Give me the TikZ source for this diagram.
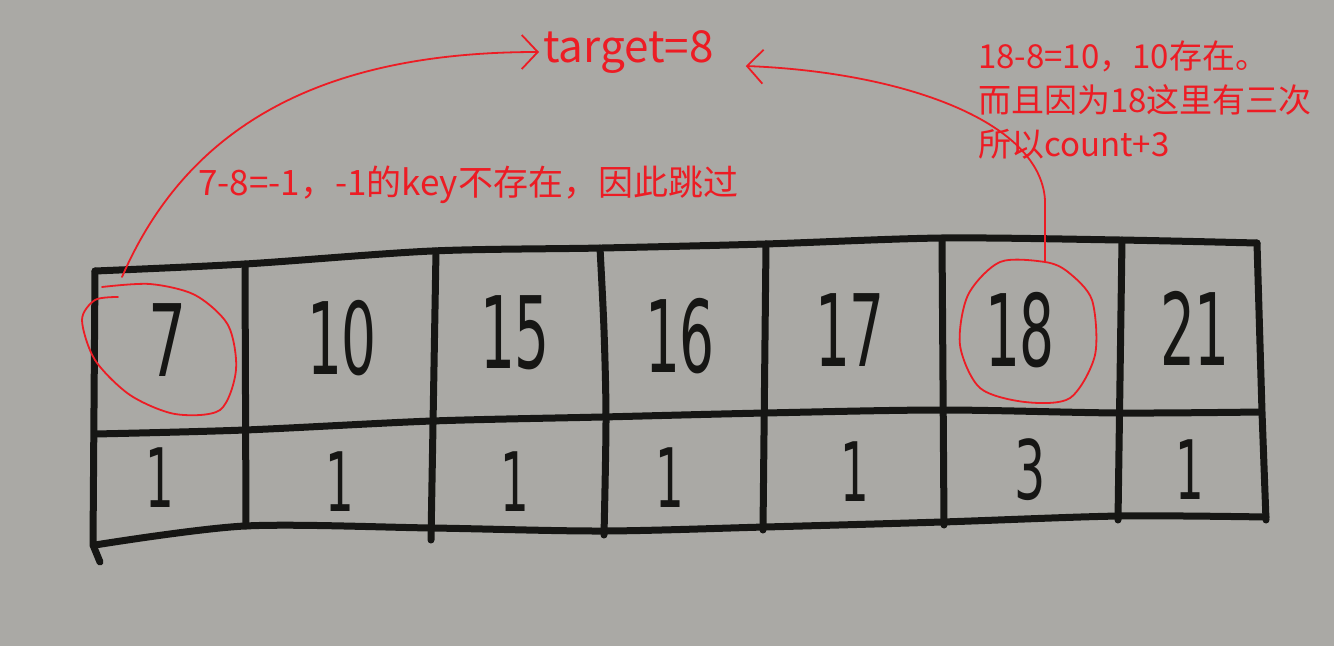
\documentclass[tikz,border=0pt]{standalone}
\usepackage{fontspec}
\newfontfamily\cjk{Noto Sans CJK SC}
\newfontfamily\numfont{DejaVu Sans}
\usetikzlibrary{arrows.meta}
\definecolor{paper}{RGB}{170,169,165}
\definecolor{pen}{RGB}{237,28,36}
\definecolor{ink}{RGB}{22,22,20}
\begin{document}
\begin{tikzpicture}[x=1pt,y=-1pt,
  grid/.style={ink,line width=7pt,line cap=round,line join=round},
  num/.style={ink,font=\numfont\fontsize{100}{100}\selectfont,inner sep=0pt},
  cnt/.style={ink,font=\numfont\fontsize{82}{82}\selectfont,inner sep=0pt},
  note/.style={pen,font=\cjk\fontsize{33}{44}\selectfont,inner sep=0pt,align=left},
  redpen/.style={pen,line width=1.8pt,line cap=round},
  arr/.style={redpen,-{Straight Barb[length=16pt,width=34pt]}}
]
\fill[paper] (0,0) rectangle (1334,646);
\useasboundingbox (0,0) rectangle (1334,646);

% grid
\draw[grid] plot[smooth] coordinates {(95,271) (245,264) (432,251) (602,248) (765,244) (942,238) (1120,240) (1257,243)};
\draw[grid] plot[smooth] coordinates {(95,434) (245,430) (432,421) (602,417) (765,413) (942,410) (1120,413) (1260,412)};
\draw[grid] plot[smooth] coordinates {(95,545) (245,526) (432,528) (602,531) (765,527) (942,522) (1120,516) (1266,517)};
\draw[grid] (95,271) -- (93,545) -- (100,562);
\draw[grid] (245,264) -- (246,526);
\draw[grid] (436,251) -- (431,540);
\draw[grid] plot[smooth] coordinates {(600,248) (604,330) (606,420) (604,535)};
\draw[grid] (766,244) -- (763,530);
\draw[grid] (942,238) -- (944,525);
\draw[grid] (1122,240) -- (1118,520);
\draw[grid] (1257,243) -- (1262,412) -- (1266,520);

% keys
\node[num] (k1) at (168,340) {\scalebox{0.6}[1]{7}};
\node[num] (k2) at (342,338) {\scalebox{0.55}[1]{10}};
\node[num] (k3) at (515,333) {\scalebox{0.55}[1]{15}};
\node[num] (k4) at (680,336) {\scalebox{0.55}[1]{16}};
\node[num] (k5) at (850,330) {\scalebox{0.55}[1]{17}};
\node[num] (k6) at (1020,330) {\scalebox{0.55}[1]{18}};
\node[num] (k7) at (1195,328) {\scalebox{0.55}[1]{21}};
% counts
\node[cnt] (v1) at (160,478) {\scalebox{0.55}[1]{1}};
\node[cnt] (v2) at (340,482) {\scalebox{0.55}[1]{1}};
\node[cnt] (v3) at (515,482) {\scalebox{0.55}[1]{1}};
\node[cnt] (v4) at (670,478) {\scalebox{0.55}[1]{1}};
\node[cnt] (v5) at (855,472) {\scalebox{0.55}[1]{1}};
\node[cnt] (v6) at (1030,470) {\scalebox{0.6}[1]{3}};
\node[cnt] (v7) at (1190,470) {\scalebox{0.55}[1]{1}};

% red circles
\draw[redpen] plot[smooth] coordinates {(118,297) (95,300) (82,320) (95,360) (130,395) (175,414) (220,410) (236,370) (228,325) (195,295) (150,284) (102,287)};
\draw[redpen] plot[smooth cycle] coordinates {(1045,262) (1000,262) (968,295) (960,345) (980,388) (1025,402) (1070,398) (1095,355) (1092,300) (1068,272)};

% annotations
\node[pen,font=\cjk\fontsize{44}{44}\selectfont,inner sep=0pt,anchor=west] (target) at (543,52) {target=8};
\node[note,font=\cjk\fontsize{35}{44}\selectfont,anchor=west] (n1) at (198,185) {7-8=-1，-1的key不存在，因此跳过};
\node[note,anchor=north west] (n2) at (978,41) {18-8=10，10存在。\\而且因为18这里有三次\\所以count+3};

% arrows
\coordinate (a1) at (122,277);
\coordinate (a2) at (1045,262);
\coordinate (t1) at ([xshift=-4pt]target.west);
\coordinate (t2) at ([xshift=32pt,yshift=-14pt]target.east);
\draw[arr] (a1) .. controls (190,120) and (330,52) .. (t1);
\draw[arr] (a2) -- (1045,200) .. controls (1040,120) and (900,72) .. (t2);
\end{tikzpicture}
\end{document}
